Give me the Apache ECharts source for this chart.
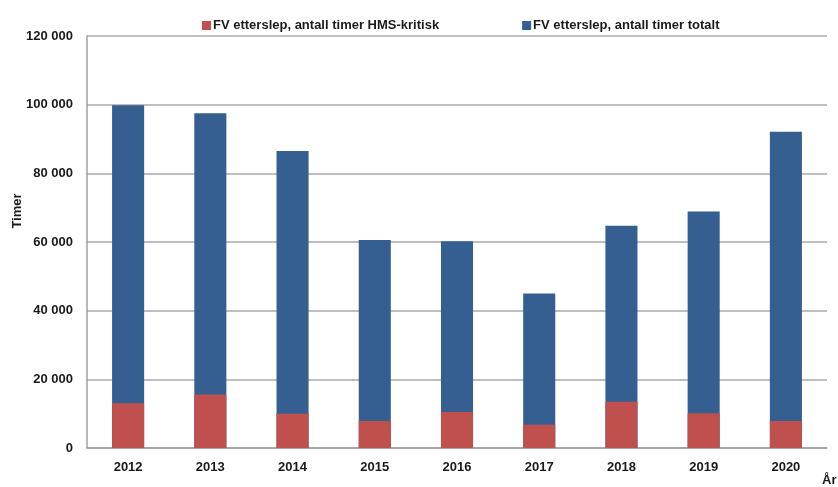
<!DOCTYPE html>
<html>
<head>
<meta charset="utf-8">
<script src="https://cdn.jsdelivr.net/npm/echarts@6/dist/echarts.min.js"></script>
<style>
  html, body { margin: 0; padding: 0; background: #fff; }
  #chart { width: 838px; height: 487px; }
</style>
</head>
<body>
<div id="chart"></div>
<script>
// år på x-aksen
const years = ['2012', '2013', '2014', '2015', '2016', '2017', '2018', '2019', '2020'];
// timer HMS-kritisk (rød)
const hmsKritisk = [13000, 15600, 10000, 7900, 10500, 6800, 13500, 10100, 7900];
// timer totalt (blå)
const totalt = [99800, 97500, 86500, 60600, 60200, 45000, 64700, 68900, 92100];
const yTicks = [0, 20000, 40000, 60000, 80000, 100000, 120000];

const FONT = '"Liberation Sans", Arial, sans-serif';
const chart = echarts.init(document.getElementById('chart'));

function fmt(v) {
  // 120000 -> "120 000"
  return String(v).replace(/\B(?=(\d{3})+(?!\d))/g, ' ');
}

chart.setOption({
  animation: false,
  textStyle: { fontFamily: FONT },
  legend: {
    top: 14,
    left: 197,
    itemWidth: 9,
    itemHeight: 9,
    itemGap: 83,
    icon: 'rect',
    data: ['FV etterslep, antall timer HMS-kritisk', 'FV etterslep, antall timer totalt'],
    textStyle: { fontFamily: FONT, fontWeight: 'bold', fontSize: 13, color: '#1a1a1a', padding: [0, 0, 0, -3] },
  },
  grid: { left: 87, right: 11, top: 36, bottom: 39, outerBoundsMode: 'none' },
  xAxis: {
    type: 'category',
    data: years,
    name: 'År',
    nameLocation: 'end',
    nameGap: -5,
    nameMoveOverlap: false,
    nameTextStyle: {
      fontWeight: 'bold', fontSize: 13, color: '#1a1a1a',
      verticalAlign: 'top', align: 'left', padding: [26, 0, 0, 0],
    },
    axisLine: { lineStyle: { color: '#a0a0a0', width: 1.5 } },
    axisTick: { show: false },
    axisLabel: { fontWeight: 'bold', fontSize: 13, color: '#1a1a1a', margin: 13 },
  },
  yAxis: {
    type: 'value',
    min: yTicks[0],
    max: yTicks[yTicks.length - 1],
    interval: yTicks[1] - yTicks[0],
    name: 'Timer',
    nameLocation: 'middle',
    nameGap: 63,
    nameRotate: 90,
    nameMoveOverlap: false,
    nameTextStyle: { fontWeight: 'bold', fontSize: 13, color: '#1a1a1a', padding: [0, 0, 0, 62] },
    axisLine: { show: true, lineStyle: { color: '#a0a0a0', width: 1.5 } },
    axisTick: { show: false },
    axisLabel: { fontWeight: 'bold', fontSize: 13, color: '#1a1a1a', margin: 14, formatter: fmt },
    splitLine: { lineStyle: { color: '#a8a8a8', width: 1.5 } },
  },
  series: [
    {
      name: 'FV etterslep, antall timer totalt',
      type: 'bar',
      data: totalt,
      barWidth: '39%',
      itemStyle: { color: '#365f91' },
      z: 2,
    },
    {
      name: 'FV etterslep, antall timer HMS-kritisk',
      type: 'bar',
      data: hmsKritisk,
      barWidth: '39%',
      barGap: '-100%',
      itemStyle: { color: '#c0504d' },
      z: 3,
    },
  ],
});
</script>
</body>
</html>
